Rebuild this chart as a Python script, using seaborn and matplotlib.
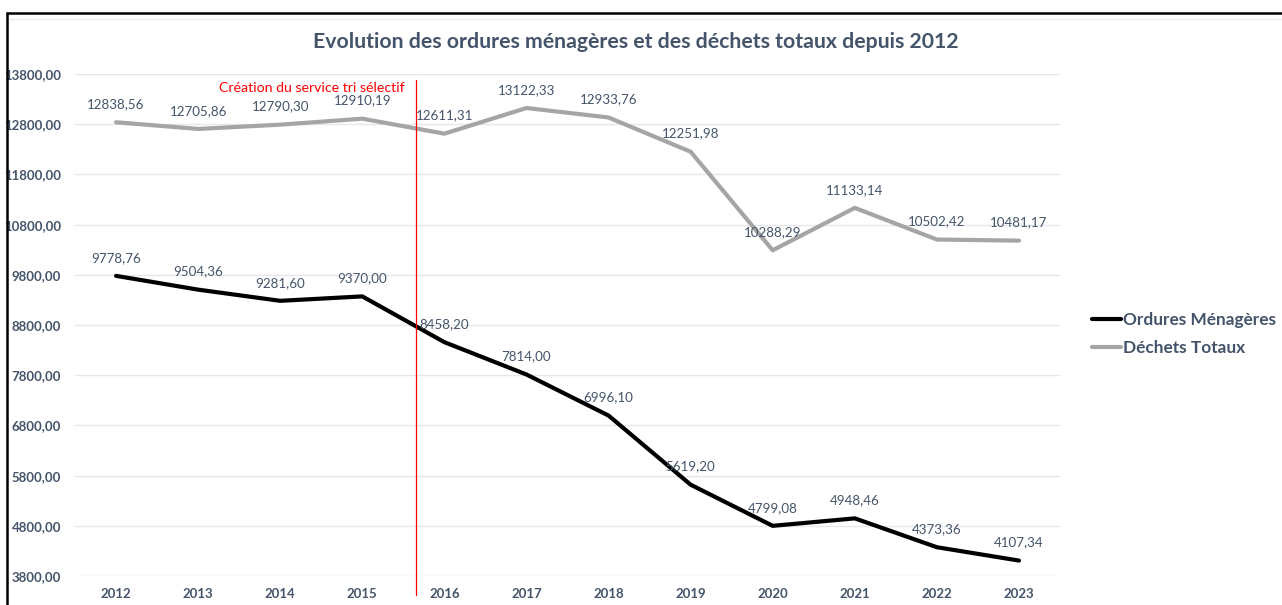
import pandas as pd
import matplotlib.pyplot as plt
import seaborn as sns
from matplotlib.lines import Line2D

# Données
annees = [2012, 2013, 2014, 2015, 2016, 2017, 2018, 2019, 2020, 2021, 2022, 2023]
ordures_menageres = [9778.76, 9504.36, 9281.60, 9370.00, 8458.20, 7814.00,
                     6996.10, 5619.20, 4799.08, 4948.46, 4373.36, 4107.34]
dechets_totaux = [12838.56, 12705.86, 12790.30, 12910.19, 12611.31, 13122.33,
                  12933.76, 12251.98, 10288.29, 11133.14, 10502.42, 10481.17]
series = ["Ordures Ménagères", "Déchets Totaux"]
couleurs = {"Ordures Ménagères": "#000000", "Déchets Totaux": "#A5A5A5"}
y_ticks = [3800, 4800, 5800, 6800, 7800, 8800, 9800, 10800, 11800, 12800, 13800]
annee_tri = 2015.65
texte_tri = "Création du service tri sélectif"

TXT = "#44546A"


def fr(v):
    return f"{v:.2f}".replace(".", ",")


df = pd.concat([
    pd.DataFrame({"annee": annees, "valeur": ordures_menageres, "serie": series[0]}),
    pd.DataFrame({"annee": annees, "valeur": dechets_totaux, "serie": series[1]}),
])

sns.set_style("white")
plt.rcParams["font.family"] = ["Lato", "DejaVu Sans"]

fig = plt.figure(figsize=(12.82, 6.05), dpi=100)
ax = fig.add_axes([75 / 1282, 1 - 576 / 605, (1060 - 75) / 1282, (576 - 74) / 605])

sns.lineplot(data=df, x="annee", y="valeur", hue="serie", hue_order=series,
             palette=couleurs, linewidth=3, ax=ax, legend=False)

ax.set_xlim(2011.5, 2023.5)
ax.set_ylim(3800, 13800)
ax.set_xticks(annees)
ax.set_xticklabels([str(a) for a in annees], fontsize=9.5, fontweight="bold", color=TXT)
ax.set_yticks(y_ticks)
ax.set_yticklabels([fr(v) for v in y_ticks], fontsize=9.5, fontweight="bold", color=TXT)
ax.tick_params(axis="x", length=0, pad=9)
ax.tick_params(axis="y", length=0, pad=10)
ax.grid(axis="y", color="#E6E6EC", linewidth=1)
ax.set_axisbelow(True)
for s in ax.spines.values():
    s.set_visible(False)
ax.set_xlabel("")
ax.set_ylabel("")

# étiquettes de données
for vals in (ordures_menageres, dechets_totaux):
    for a, v in zip(annees, vals):
        ax.annotate(fr(v), (a, v), xytext=(0, 13), textcoords="offset points",
                    ha="center", va="center", fontsize=9.6, color=TXT)

# ligne rouge
ax.axvline(annee_tri, ymin=-0.038, ymax=0.988, color="#FF0000", linewidth=0.9,
           clip_on=False)
ax.text(annee_tri - 0.14, 13530, texte_tri, ha="right", va="center",
        fontsize=10.2, color="#FF0000")

fig.text(636 / 1282, 1 - 42 / 605,
         "Evolution des ordures ménagères et des déchets totaux depuis 2012",
         ha="center", va="center", fontsize=15.3, fontweight="bold", color=TXT)

# légende
handles = [Line2D([], [], color=couleurs[s], linewidth=3) for s in series]
leg = fig.legend(handles, series, loc="center left",
                 bbox_to_anchor=(1076 / 1282, 1 - 334 / 605), frameon=False,
                 handlelength=1.7, handletextpad=0.15, labelspacing=0.65,
                 prop={"size": 12.4, "weight": "bold"})
for t in leg.get_texts():
    t.set_color(TXT)

# cadre de la capture
fig.add_artist(Line2D([7 / 1282, 1], [1 - 13 / 605] * 2, color="black", linewidth=1.8))
fig.add_artist(Line2D([7 / 1282] * 2, [0, 1 - 13 / 605], color="black", linewidth=1.8))
fig.add_artist(Line2D([9 / 1282, 1], [1 - 19 / 605] * 2, color="#EBEBF0", linewidth=1))

fig.savefig("out.png", dpi=100)
